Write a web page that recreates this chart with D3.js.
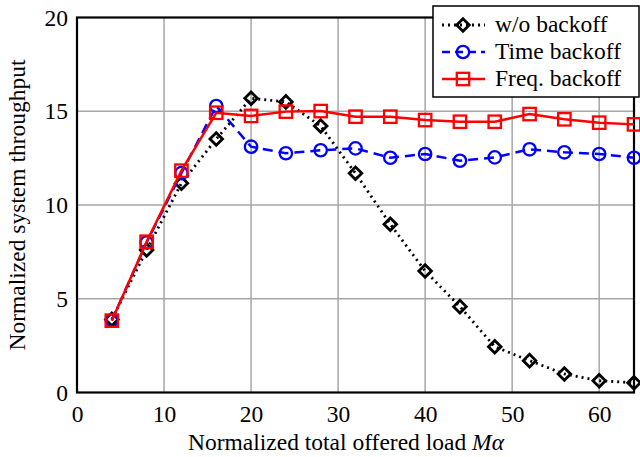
<!DOCTYPE html>
<html>
<head>
<meta charset="utf-8">
<script src="https://cdn.jsdelivr.net/npm/d3@7"></script>
<style>
  body { margin: 0; background: #fff; }
  svg text { font-family: "Liberation Serif", "Times New Roman", serif; }
</style>
</head>
<body>
<div id="chart"></div>
<script>
const loads = [4, 8, 12, 16, 20, 24, 28, 32, 36, 40, 44, 48, 52, 56, 60, 64];
const noBackoff = [3.9, 7.6, 11.16, 13.52, 15.69, 15.5, 14.21, 11.69, 8.97, 6.48, 4.58, 2.44, 1.70, 0.99, 0.63, 0.52];
const timeBackoff = [3.85, 8.0, 11.7, 15.28, 13.11, 12.76, 12.92, 13.02, 12.52, 12.72, 12.36, 12.54, 12.97, 12.81, 12.72, 12.52];
const freqBackoff = [3.83, 8.04, 11.83, 14.92, 14.75, 14.98, 15.01, 14.71, 14.71, 14.53, 14.44, 14.44, 14.85, 14.57, 14.39, 14.3];
const xTicks = [0, 10, 20, 30, 40, 50, 60];
const yTicks = [0, 5, 10, 15, 20];

const W = 640, H = 457;
const margin = {top: 17.5, right: 6, bottom: 64.5, left: 77};
const width = W - margin.left - margin.right;
const height = H - margin.top - margin.bottom;
const serif = "'Liberation Serif', 'Times New Roman', serif";

const svg = d3.select("#chart").append("svg")
    .attr("width", W)
    .attr("height", H);
const g = svg.append("g")
    .attr("transform", "translate(" + margin.left + "," + margin.top + ")");

const x = d3.scaleLinear().domain([0, 64]).range([0, width]);
const y = d3.scaleLinear().domain([0, 20]).range([height, 0]);

// grid
g.append("g").selectAll("line").data(xTicks.filter(d => d > 0))
    .join("line")
    .attr("x1", d => x(d)).attr("x2", d => x(d))
    .attr("y1", 0).attr("y2", height)
    .attr("stroke", "#a6a6a6").attr("stroke-width", 1.5);
g.append("g").selectAll("line").data(yTicks.filter(d => d > 0 && d < 20))
    .join("line")
    .attr("x1", 0).attr("x2", width)
    .attr("y1", d => y(d)).attr("y2", d => y(d))
    .attr("stroke", "#a6a6a6").attr("stroke-width", 1.5);

// axes (labels only, frame drawn separately)
const xAxis = g.append("g")
    .attr("transform", "translate(0," + height + ")")
    .call(d3.axisBottom(x).tickValues(xTicks).tickSize(0).tickPadding(13));
const yAxis = g.append("g")
    .call(d3.axisLeft(y).tickValues(yTicks).tickSize(0).tickPadding(9));
[xAxis, yAxis].forEach(a => {
    a.attr("font-family", serif).attr("font-size", 23.5);
    a.select(".domain").remove();
    a.selectAll("text")
        .style("font-family", serif)
        .style("font-size", "23.5px")
        .attr("fill", "#000");
});

// frame
g.append("rect")
    .attr("x", 0).attr("y", 0)
    .attr("width", width).attr("height", height)
    .attr("fill", "none").attr("stroke", "#000").attr("stroke-width", 2.2);

const series = [
    {name: "w/o backoff", values: noBackoff, color: "#000", dash: "2,4", marker: "diamond"},
    {name: "Time backoff", values: timeBackoff, color: "#0000ff", dash: "10,6", marker: "circle"},
    {name: "Freq. backoff", values: freqBackoff, color: "#ff0000", dash: null, marker: "square"}
];

const line = d3.line()
    .x((d, i) => x(loads[i]))
    .y(d => y(d));

function drawMarker(sel, s) {
    if (s.marker === "circle") {
        sel.append("circle").attr("r", 6.2)
            .attr("fill", "none").attr("stroke", s.color).attr("stroke-width", 2.3);
    } else if (s.marker === "square") {
        sel.append("rect").attr("x", -6.2).attr("y", -6.2).attr("width", 12.4).attr("height", 12.4)
            .attr("fill", "none").attr("stroke", s.color).attr("stroke-width", 2.3);
    } else {
        sel.append("path").attr("d", "M0,-6.3L6.3,0L0,6.3L-6.3,0Z")
            .attr("fill", "none").attr("stroke", s.color).attr("stroke-width", 2.8);
    }
}

series.forEach(s => {
    g.append("path")
        .datum(s.values)
        .attr("d", line)
        .attr("fill", "none")
        .attr("stroke", s.color)
        .attr("stroke-width", s.marker === "diamond" ? 2.8 : 2.5)
        .attr("stroke-dasharray", s.dash);
    g.append("g").selectAll("g").data(s.values)
        .join("g")
        .attr("transform", (d, i) => "translate(" + x(loads[i]) + "," + y(d) + ")")
        .each(function () { drawMarker(d3.select(this), s); });
});

// legend
const lg = svg.append("g").attr("transform", "translate(433,6)");
lg.append("rect")
    .attr("x", 0).attr("y", 0).attr("width", 206).attr("height", 91)
    .attr("fill", "#fff").attr("stroke", "#000").attr("stroke-width", 1.5);
series.forEach((s, i) => {
    const row = lg.append("g").attr("transform", "translate(0," + (19 + i * 27) + ")");
    row.append("line")
        .attr("x1", 9).attr("x2", 52).attr("y1", 0).attr("y2", 0)
        .attr("stroke", s.color)
        .attr("stroke-width", s.marker === "diamond" ? 2.8 : 2.5)
        .attr("stroke-dasharray", s.marker === "circle" ? "8,5" : s.dash);
    const m = row.append("g").attr("transform", "translate(30,0)");
    drawMarker(m, s);
    row.append("text")
        .attr("x", 62).attr("y", 7)
        .style("font-size", "23.5px")
        .attr("fill", "#000")
        .text(s.name);
});

// axis labels
const xl = svg.append("text")
    .attr("x", 346).attr("y", 450)
    .attr("text-anchor", "middle")
    .style("font-size", "23.5px");
xl.append("tspan").text("Normalized total offered load ");
xl.append("tspan").style("font-style", "italic").text("M\u03b1");

svg.append("text")
    .attr("transform", "rotate(-90)")
    .attr("x", -(margin.top + height / 2)).attr("y", 25)
    .attr("text-anchor", "middle")
    .style("font-size", "23.5px")
    .text("Normalized system throughput");
</script>
</body>
</html>
